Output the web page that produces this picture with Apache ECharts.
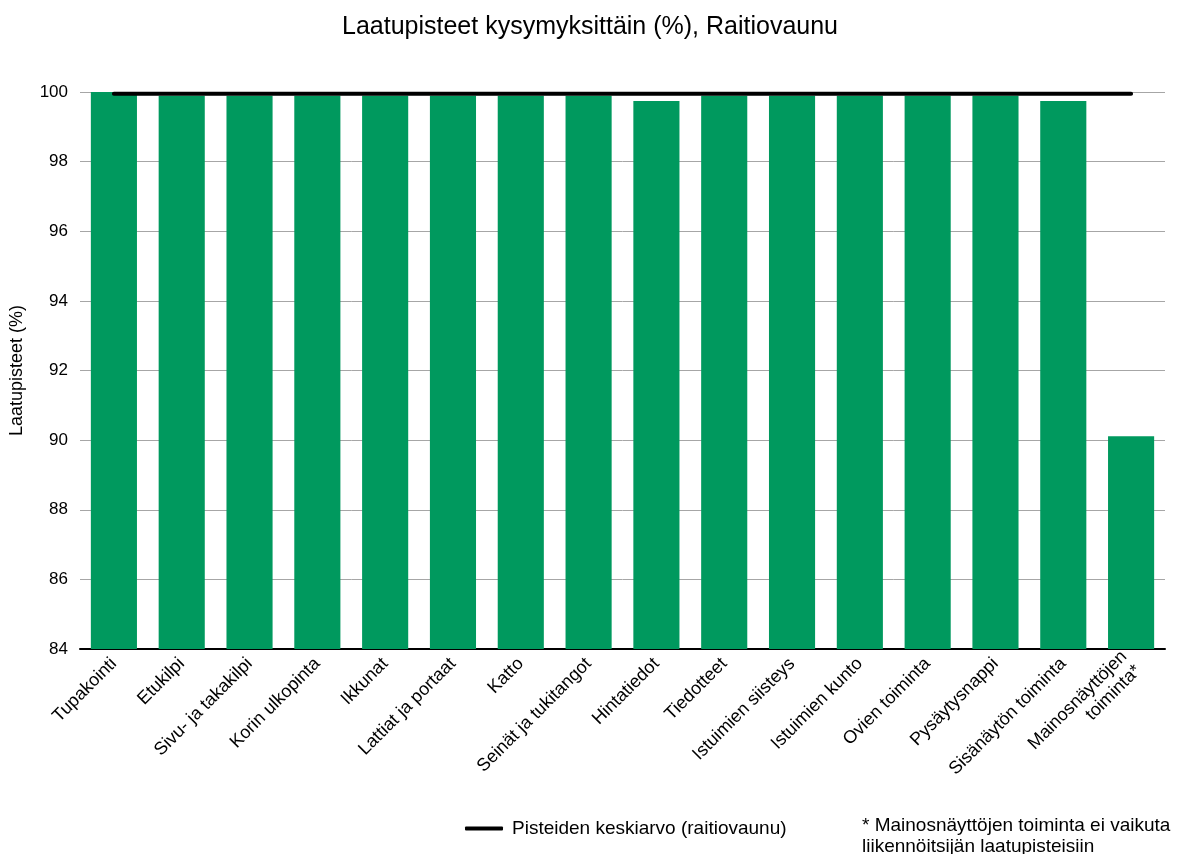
<!DOCTYPE html>
<html>
<head>
<meta charset="utf-8">
<script src="https://cdn.jsdelivr.net/npm/echarts@6/dist/echarts.min.js"></script>
<style>
  html, body { margin: 0; padding: 0; background: #fff; }
  #main { width: 1180px; height: 854px; }
</style>
</head>
<body>
<div id="main"></div>
<script>
// data
var categories = ['Tupakointi', 'Etukilpi', 'Sivu- ja takakilpi', 'Korin ulkopinta', 'Ikkunat',
  'Lattiat ja portaat', 'Katto', 'Seinät ja tukitangot', 'Hintatiedot', 'Tiedotteet',
  'Istuimien siisteys', 'Istuimien kunto', 'Ovien toiminta', 'Pysäytysnappi',
  'Sisänäytön toiminta', 'Mainosnäyttöjen\ntoiminta*'];
var scores = [100, 99.89, 99.89, 99.89, 99.89, 99.89, 99.89, 99.89, 99.74, 99.89,
  99.89, 99.89, 99.89, 99.89, 99.74, 90.11];
var average = [99.95, 99.95, 99.95, 99.95, 99.95, 99.95, 99.95, 99.95, 99.95, 99.95,
  99.95, 99.95, 99.95, 99.95, 99.95, 99.95];
var yTicks = [84, 86, 88, 90, 92, 94, 96, 98, 100];

var myChart = echarts.init(document.getElementById('main'));
var font = 'Liberation Sans, Arial, sans-serif';

var option = {
  animation: false,
  textStyle: { fontFamily: font },
  title: {
    text: 'Laatupisteet kysymyksittäin (%), Raitiovaunu',
    left: 'center',
    top: 10,
    textStyle: { fontSize: 25, fontWeight: 'normal', color: '#000', fontFamily: font }
  },
  grid: { left: 78, right: 15, top: 92, bottom: 205 },
  legend: {
    left: 460,
    top: 814,
    itemWidth: 38,
    itemHeight: 4,
    itemGap: 10,
    data: [{ name: 'Pisteiden keskiarvo (raitiovaunu)', icon: 'roundRect' }],
    textStyle: { fontSize: 19, color: '#000', fontFamily: font, padding: [0, 0, 0, 4] }
  },
  xAxis: {
    type: 'category',
    data: categories,
    axisLine: { lineStyle: { color: '#000', width: 2 } },
    axisTick: { show: false },
    axisLabel: {
      rotate: 45,
      interval: 0,
      fontSize: 18,
      color: '#000',
      margin: 12,
      align: 'right',
      lineHeight: 20
    }
  },
  yAxis: {
    type: 'value',
    min: yTicks[0],
    max: yTicks[yTicks.length - 1],
    interval: 2,
    name: 'Laatupisteet (%)',
    nameLocation: 'middle',
    nameGap: 54,
    nameTextStyle: { fontSize: 18, color: '#000', fontFamily: font },
    axisLine: { show: false },
    axisTick: { show: false },
    axisLabel: { fontSize: 17, color: '#000', margin: 12 },
    splitLine: { lineStyle: { color: '#a6a6a6', width: 1 } }
  },
  series: [
    {
      name: 'Laatupisteet',
      type: 'bar',
      data: scores,
      barWidth: '68%',
      itemStyle: { color: '#00995e' }
    },
    {
      name: 'Pisteiden keskiarvo (raitiovaunu)',
      type: 'line',
      data: average,
      symbol: 'none',
      z: 5,
      lineStyle: { color: '#000', width: 4, cap: 'round' },
      itemStyle: { color: '#000' }
    }
  ],
  graphic: [
    {
      type: 'text',
      left: 862,
      top: 815,
      style: {
        text: '* Mainosnäyttöjen toiminta ei vaikuta\nliikennöitsijän laatupisteisiin',
        fontSize: 19,
        lineHeight: 21,
        fill: '#000',
        fontFamily: font
      }
    }
  ]
};
myChart.setOption(option);
</script>
</body>
</html>
